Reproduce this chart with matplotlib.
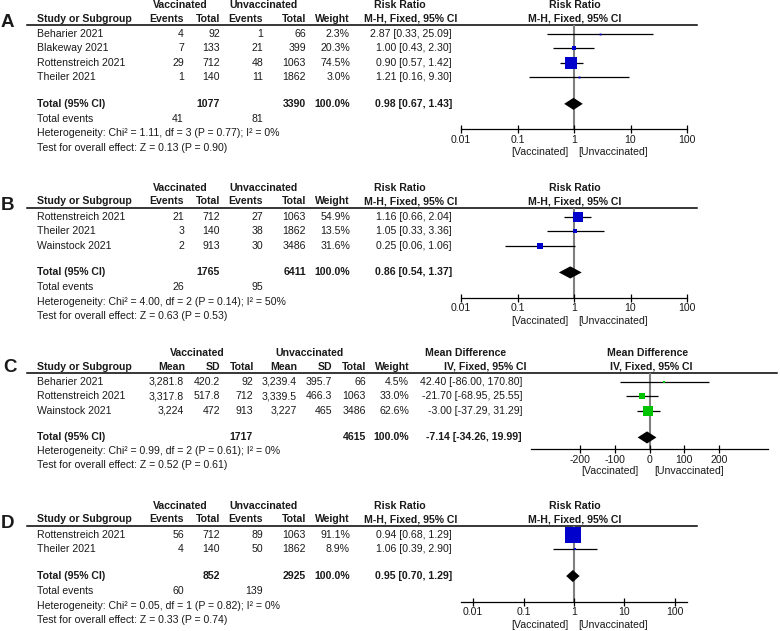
"""
Forest plots A-D: vaccinated vs unvaccinated
"""

import matplotlib
import matplotlib.pyplot as plt

matplotlib.use('Agg')
plt.rcParams['font.family'] = ['Liberation Sans', 'DejaVu Sans']

W, H = 780, 631
FS = 7.6
INK = '#1a1a1a'
BLUE = '#0000cc'
GREEN = '#00c400'

# ==========================================
# DATA
# ==========================================
# A
studies_a = ['Beharier 2021', 'Blakeway 2021', 'Rottenstreich 2021', 'Theiler 2021']
vac_events_a = [4, 7, 29, 1]
vac_total_a = [92, 133, 712, 140]
unv_events_a = [1, 21, 48, 11]
unv_total_a = [66, 399, 1063, 1862]
weight_a = [2.3, 20.3, 74.5, 3.0]
rr_a = [2.87, 1.00, 0.90, 1.21]
lo_a = [0.33, 0.43, 0.57, 0.16]
hi_a = [25.09, 2.30, 1.42, 9.30]
totals_a = [1077, 3390, 41, 81]
pooled_a = [0.98, 0.67, 1.43]
het_a = 'Heterogeneity: Chi² = 1.11, df = 3 (P = 0.77); I² = 0%'
test_a = 'Test for overall effect: Z = 0.13 (P = 0.90)'

# B
studies_b = ['Rottenstreich 2021', 'Theiler 2021', 'Wainstock 2021']
vac_events_b = [21, 3, 2]
vac_total_b = [712, 140, 913]
unv_events_b = [27, 38, 30]
unv_total_b = [1063, 1862, 3486]
weight_b = [54.9, 13.5, 31.6]
rr_b = [1.16, 1.05, 0.25]
lo_b = [0.66, 0.33, 0.06]
hi_b = [2.04, 3.36, 1.06]
totals_b = [1765, 6411, 26, 95]
pooled_b = [0.86, 0.54, 1.37]
het_b = 'Heterogeneity: Chi² = 4.00, df = 2 (P = 0.14); I² = 50%'
test_b = 'Test for overall effect: Z = 0.63 (P = 0.53)'

# C
studies_c = ['Beharier 2021', 'Rottenstreich 2021', 'Wainstock 2021']
vac_mean_c = [3281.8, 3317.8, 3224]
vac_sd_c = [420.2, 517.8, 472]
vac_total_c = [92, 712, 913]
unv_mean_c = [3239.4, 3339.5, 3227]
unv_sd_c = [395.7, 466.3, 465]
unv_total_c = [66, 1063, 3486]
weight_c = [4.5, 33.0, 62.6]
md_c = [42.40, -21.70, -3.00]
lo_c = [-86.00, -68.95, -37.29]
hi_c = [170.80, 25.55, 31.29]
totals_c = [1717, 4615]
pooled_c = [-7.14, -34.26, 19.99]
het_c = 'Heterogeneity: Chi² = 0.99, df = 2 (P = 0.61); I² = 0%'
test_c = 'Test for overall effect: Z = 0.52 (P = 0.61)'

# D
studies_d = ['Rottenstreich 2021', 'Theiler 2021']
vac_events_d = [56, 4]
vac_total_d = [712, 140]
unv_events_d = [89, 50]
unv_total_d = [1063, 1862]
weight_d = [91.1, 8.9]
rr_d = [0.94, 1.06]
lo_d = [0.68, 0.39]
hi_d = [1.29, 2.90]
totals_d = [852, 2925, 60, 139]
pooled_d = [0.95, 0.70, 1.29]
het_d = 'Heterogeneity: Chi² = 0.05, df = 1 (P = 0.82); I² = 0%'
test_d = 'Test for overall effect: Z = 0.33 (P = 0.74)'

rr_ticks = [0.01, 0.1, 1, 10, 100]
rr_ticklabels = ['0.01', '0.1', '1', '10', '100']
md_ticks = [-200, -100, 0, 100, 200]
md_ticklabels = ['-200', '-100', '0', '100', '200']

# ==========================================
# FIGURE + text layer in pixels
# ==========================================
fig = plt.figure(figsize=(W / 100, H / 100), dpi=100)
fig.patch.set_facecolor('white')
tab = fig.add_axes([0, 0, 1, 1])
tab.set_xlim(0, W)
tab.set_ylim(H, 0)
tab.axis('off')

DY = 14.4


def txt(x, y, s, ha='right', bold=False, size=FS):
    tab.text(x, y, s, ha=ha, va='center', fontsize=size, color=INK,
             fontweight='bold' if bold else 'normal')


def ci(e, l, h, fmt='{:.2f}'):
    return f'{fmt.format(e)} [{fmt.format(l)}, {fmt.format(h)}]'


def forest(x0, x1, y_line, y_axis, y_row0, xlim, log, ref, est, lo, hi, weight,
           pooled, color, ticks, ticklabels):
    ax = fig.add_axes([x0 / W, 1 - y_axis / H, (x1 - x0) / W, (y_axis - y_line) / H])
    if log:
        ax.set_xscale('log')
    ax.set_xlim(xlim)
    ax.set_ylim((y_axis - y_row0) / DY, -(y_row0 - y_line) / DY)
    n = len(est)
    rows = list(range(n))
    ax.axvline(ref, color='#808080', lw=1.5, zorder=1)
    ax.hlines(rows, lo, hi, color='k', lw=0.9, zorder=2)
    for r, e, w in zip(rows, est, weight):
        ax.plot(e, r, marker='s', ms=(1.5 + 0.15 * w) * 0.72, color=color,
                mew=0, zorder=3)
    ty = n + 0.85
    ax.fill([pooled[1], pooled[0], pooled[2], pooled[0]],
            [ty, ty - 0.42, ty, ty + 0.42], color='k', lw=0, zorder=4)
    for s in ['top', 'left', 'right']:
        ax.spines[s].set_visible(False)
    ax.spines['bottom'].set_linewidth(0.9)
    ax.set_xticks(ticks, ticklabels)
    ax.minorticks_off()
    ax.set_yticks([])
    ax.tick_params(axis='x', direction='inout', length=6, width=0.9,
                   labelsize=FS, pad=1, labelcolor=INK)
    ax.patch.set_alpha(0)
    return ax


# ==========================================
# RISK RATIO PANELS (A, B, D)
# ==========================================
def rr_panel(letter, y_top, studies, ev_v, tot_v, ev_u, tot_u, weight, rr, lo, hi,
             totals, pooled, het, test):
    y_col = y_top + 13.5
    y_line = y_top + 19.5
    y_row0 = y_line + 9.5
    n = len(studies)
    y_tot = y_row0 + DY * (n + 0.85)
    y_axis = y_tot + 25.5

    txt(7, y_col + 4, letter, ha='center', bold=True, size=13.5)
    txt(180, y_top, 'Vaccinated', ha='center', bold=True)
    txt(263, y_top, 'Unvaccinated', ha='center', bold=True)
    txt(400, y_top, 'Risk Ratio', ha='center', bold=True)
    txt(575, y_top, 'Risk Ratio', ha='center', bold=True)
    txt(37, y_col, 'Study or Subgroup', ha='left', bold=True)
    for x, s in zip([184, 220, 263, 306, 350], ['Events', 'Total', 'Events', 'Total', 'Weight']):
        txt(x, y_col, s, bold=True)
    txt(457, y_col, 'M-H, Fixed, 95% CI', bold=True)
    txt(575, y_col, 'M-H, Fixed, 95% CI', ha='center', bold=True)
    tab.plot([27, 697], [y_line, y_line], color='k', lw=1.1)

    for i in range(n):
        y = y_row0 + DY * i
        txt(37, y, studies[i], ha='left')
        txt(184, y, str(ev_v[i]))
        txt(220, y, str(tot_v[i]))
        txt(263, y, str(ev_u[i]))
        txt(306, y, str(tot_u[i]))
        txt(350, y, f'{weight[i]:.1f}%')
        txt(452, y, ci(rr[i], lo[i], hi[i]))

    txt(37, y_tot, 'Total (95% CI)', ha='left', bold=True)
    txt(220, y_tot, str(totals[0]), bold=True)
    txt(306, y_tot, str(totals[1]), bold=True)
    txt(350, y_tot, '100.0%', bold=True)
    txt(452, y_tot, ci(*pooled), bold=True)
    txt(37, y_tot + 15, 'Total events', ha='left')
    txt(184, y_tot + 15, str(totals[2]))
    txt(263, y_tot + 15, str(totals[3]))
    txt(37, y_tot + 29.5, het, ha='left')
    txt(37, y_tot + 44, test, ha='left')

    forest(461, 687, y_line, y_axis, y_row0,
           (0.01, 100) if letter != 'D' else (10 ** -2.24, 10 ** 2.24), True, 1,
           rr, lo, hi, weight, pooled, BLUE, rr_ticks, rr_ticklabels)
    txt(569, y_axis + 23, '[Vaccinated]')
    txt(578, y_axis + 23, '[Unvaccinated]', ha='left')


rr_panel('A', 5, studies_a, vac_events_a, vac_total_a, unv_events_a, unv_total_a,
         weight_a, rr_a, lo_a, hi_a, totals_a, pooled_a, het_a, test_a)
rr_panel('B', 188, studies_b, vac_events_b, vac_total_b, unv_events_b, unv_total_b,
         weight_b, rr_b, lo_b, hi_b, totals_b, pooled_b, het_b, test_b)
rr_panel('D', 506, studies_d, vac_events_d, vac_total_d, unv_events_d, unv_total_d,
         weight_d, rr_d, lo_d, hi_d, totals_d, pooled_d, het_d, test_d)

# ==========================================
# MEAN DIFFERENCE PANEL (C)
# ==========================================
y_top = 353
y_col = y_top + 13.5
y_line = y_top + 19.5
y_row0 = y_line + 9.5
y_tot = y_row0 + DY * (len(studies_c) + 0.85)
y_axis = y_tot + 12

txt(10, y_col + 1, 'C', ha='center', bold=True, size=13.5)
txt(197, y_top, 'Vaccinated', ha='center', bold=True)
txt(310, y_top, 'Unvaccinated', ha='center', bold=True)
txt(466, y_top, 'Mean Difference', ha='center', bold=True)
txt(648, y_top, 'Mean Difference', ha='center', bold=True)
txt(37, y_col, 'Study or Subgroup', ha='left', bold=True)
for x, s in zip([185, 220, 254, 297, 332, 366, 410],
                ['Mean', 'SD', 'Total', 'Mean', 'SD', 'Total', 'Weight']):
    txt(x, y_col, s, bold=True)
txt(527, y_col, 'IV, Fixed, 95% CI', bold=True)
txt(651, y_col, 'IV, Fixed, 95% CI', ha='center', bold=True)
tab.plot([27, 777], [y_line, y_line], color='k', lw=1.1)

for i in range(len(studies_c)):
    y = y_row0 + DY * i
    txt(37, y, studies_c[i], ha='left')
    txt(184, y, f'{vac_mean_c[i]:,g}')
    txt(220, y, f'{vac_sd_c[i]:g}')
    txt(253, y, str(vac_total_c[i]))
    txt(297, y, f'{unv_mean_c[i]:,g}')
    txt(332, y, f'{unv_sd_c[i]:g}')
    txt(366, y, str(unv_total_c[i]))
    txt(409, y, f'{weight_c[i]:.1f}%')
    txt(522, y, ci(md_c[i], lo_c[i], hi_c[i]))

txt(37, y_tot, 'Total (95% CI)', ha='left', bold=True)
txt(253, y_tot, str(totals_c[0]), bold=True)
txt(366, y_tot, str(totals_c[1]), bold=True)
txt(409, y_tot, '100.0%', bold=True)
txt(522, y_tot, ci(*pooled_c), bold=True)
txt(37, y_tot + 14, het_c, ha='left')
txt(37, y_tot + 28, test_c, ha='left')

forest(531, 768, y_line, y_axis, y_row0, (-342, 342), False, 0,
       md_c, lo_c, hi_c, weight_c, pooled_c, GREEN, md_ticks, md_ticklabels)
txt(639, y_axis + 22, '[Vaccinated]')
txt(654, y_axis + 22, '[Unvaccinated]', ha='left')

plt.savefig('out.png', dpi=100, facecolor='white')
plt.close()
